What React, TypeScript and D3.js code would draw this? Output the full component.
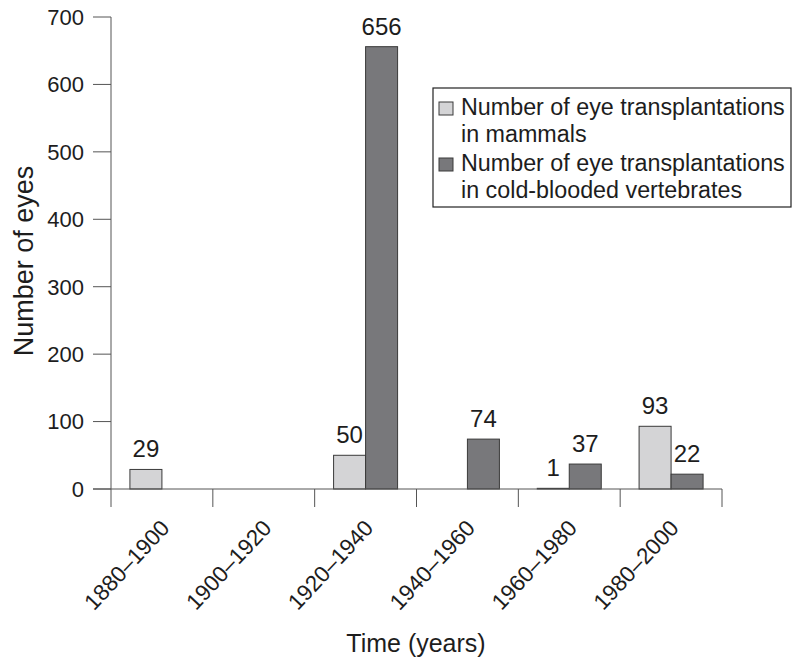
import * as d3 from "d3";

const categories = ["1880–1900", "1900–1920", "1920–1940", "1940–1960", "1960–1980", "1980–2000"];
const mammals = [29, 0, 50, 0, 1, 93];
const coldBlooded = [0, 0, 656, 74, 37, 22];
const seriesColors = ["#d4d4d6", "#78787b"];
const yTicks = [0, 100, 200, 300, 400, 500, 600, 700];

const width = 800, height = 664;
const font = "'Liberation Sans', Arial, Helvetica, sans-serif";
const ink = "#1d1d1d";
const axisColor = "#555";

export default function App() {
  const x = d3.scaleBand<string>().domain(categories).range([111, 722]).padding(0);
  const y = d3.scaleLinear().domain([0, 700]).range([489, 17]);
  const sub = d3.scaleBand<number>().domain([0, 1]).range([-32, 32]);
  const boundaries = categories.map(c => x(c)!).concat([x.range()[1]]);

  const bars = categories.flatMap((c, i) =>
    [mammals[i], coldBlooded[i]].map((v, s) => ({ c, v, s }))
  ).filter(d => d.v > 0);

  const legendLines = [
    { text: "Number of eye transplantations", y: 115, swatch: 0 },
    { text: "in mammals", y: 142 },
    { text: "Number of eye transplantations", y: 171, swatch: 1 },
    { text: "in cold-blooded vertebrates", y: 198 },
  ];

  return (
    <svg width={width} height={height} style={{ position: "absolute", left: 0, top: 0, background: "#fff" }} fontFamily={font}>
      {/* bars */}
      {bars.map((d, i) => {
        const cx = x(d.c)! + x.bandwidth() / 2 + sub(d.s)!;
        return (
          <g key={i}>
            <rect x={cx} y={y(d.v)} width={sub.bandwidth()} height={y(0) - y(d.v)}
              fill={seriesColors[d.s]} stroke="#3a3a3a" strokeWidth={1} />
            <text x={cx + sub.bandwidth() / 2} y={y(d.v) - 12} textAnchor="middle" fontSize={24} fill={ink}>{d.v}</text>
          </g>
        );
      })}

      {/* y axis */}
      <line x1={111} x2={111} y1={y(700)} y2={y(0)} stroke={axisColor} />
      {yTicks.map(t => (
        <g key={t}>
          <line x1={93} x2={111} y1={y(t)} y2={y(t)} stroke={axisColor} />
          <text x={84} y={y(t)} dy="0.36em" textAnchor="end" fontSize={22} fill={ink}>{t}</text>
        </g>
      ))}

      {/* x axis */}
      <line x1={93} x2={722} y1={y(0)} y2={y(0)} stroke={axisColor} />
      {boundaries.map((b, i) => (
        <line key={i} x1={b} x2={b} y1={y(0)} y2={y(0) + 18} stroke={axisColor} />
      ))}
      {categories.map(c => {
        const px = x(c)! + x.bandwidth() / 2 + 9;
        const py = 529;
        return (
          <text key={c} x={px} y={py} textAnchor="end" fontSize={22.5} fill={ink}
            transform={`rotate(-47, ${px}, ${py})`}>{c}</text>
        );
      })}

      {/* axis titles */}
      <text x={416} y={652} textAnchor="middle" fontSize={25} fill={ink}>Time (years)</text>
      <text transform="translate(33, 261) rotate(-90)" textAnchor="middle" fontSize={27} fill={ink}>Number of eyes</text>

      {/* legend */}
      <rect x={433} y={88} width={358} height={119} fill="#fff" stroke="#222" strokeWidth={1.2} />
      {legendLines.map((l, i) => (
        <g key={i}>
          {l.swatch !== undefined && (
            <rect x={439} y={l.y - 13} width={14} height={13} fill={seriesColors[l.swatch]} stroke="#3a3a3a" />
          )}
          <text x={461} y={l.y} fontSize={23.3} fill={ink}>{l.text}</text>
        </g>
      ))}
    </svg>
  );
}
